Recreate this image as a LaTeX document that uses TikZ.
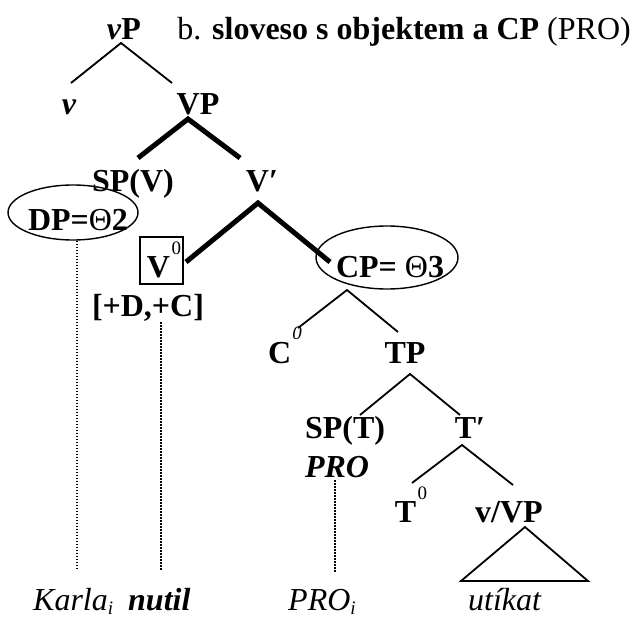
\documentclass[tikz,border=0pt]{standalone}
\usepackage{fontspec}
\setmainfont{Liberation Serif}
\usetikzlibrary{shapes.geometric}
\newcommand{\supz}{\kern1.5pt\raisebox{23pt}{\fontsize{19}{19}\selectfont\mdseries 0}}
\newcommand{\supzi}{\kern1pt\raisebox{24pt}{\fontsize{19}{19}\selectfont\mdseries\itshape 0}}
\newcommand{\subi}{\raisebox{-4pt}{\fontsize{19}{19}\selectfont i}}
\begin{document}
\begin{tikzpicture}[x=1pt,y=-1pt,
  font=\fontsize{32}{38}\selectfont\bfseries,
  lbl/.style={inner sep=0pt, anchor=base},
  lblw/.style={inner sep=0pt, anchor=base west},
  branch/.style={line width=1.8pt},
  heavy/.style={line width=5pt},
  ring/.style={draw, ellipse, line width=1.4pt, inner sep=0pt},
  trace/.style={line width=1.5pt, dash pattern=on 1.5pt off 1.5pt}]
\useasboundingbox (0,0) rectangle (633,618);

% texts
\node[lbl] (vP) at (124,40) {\textit{v}P};
\node[inner sep=0pt, anchor=base east] (title) at (631,40) {{\mdseries b.} sloveso s objektem a CP {\mdseries (PRO)}};
\node[lbl] (v) at (69,115) {\textit{v}};
\node[lbl] (VP) at (198,115) {VP};
\node[lbl] (SPV) at (133,192) {SP(V)};
\node[lbl] (Vbar) at (262,192) {V′};
\node[ring, minimum width=130, minimum height=55] (DPe) at (73,212.5) {};
\node[lbl] (DP) at (78,230) {DP={\mdseries Θ}2};
\node[draw, line width=1.6pt, minimum width=43, minimum height=47, inner sep=0pt] (Vbox) at (161.5,260.5) {};
\node[lbl] (V0) at (164,277) {V\supz};
\node[ring, minimum width=142, minimum height=63] (CPe) at (387,257.5) {};
\node[lbl] (CP) at (390,277) {CP= {\mdseries Θ}3};
\node[lbl] (feat) at (148,316) {[+D,+C]};
\node[lbl] (C0) at (285,363) {C\supzi};
\node[lbl] (TP) at (405,363) {TP};
\node[lbl] (SPT) at (345,438) {SP(T)};
\node[lbl] (Tbar) at (470,438) {T′};
\node[lbl] (PRO) at (337,477) {\textit{PRO}};
\node[lbl] (T0) at (411,522) {T\supz};
\node[lbl] (vVP) at (509,522) {v/VP};
\node[lblw, font=\fontsize{32}{38}\selectfont\mdseries\itshape] (Karla) at (33,610) {Karla\subi};
\node[lblw, font=\fontsize{32}{38}\selectfont\bfseries\itshape] (nutil) at (128,610) {nutil};
\node[lblw, font=\fontsize{32}{38}\selectfont\mdseries\itshape] (PROi) at (288,610) {PRO\subi};
\node[lblw, font=\fontsize{32}{38}\selectfont\mdseries\itshape] (utikat) at (468,610) {utíkat};

% branch points
\coordinate (a1) at (121,43);
\coordinate (a1l) at (71,83);
\coordinate (a1r) at (172,83);
\coordinate (a2) at (188,119);
\coordinate (a2l) at (138,158);
\coordinate (a2r) at (240,158);
\coordinate (a3) at (258,203);
\coordinate (a3l) at (186,262);
\coordinate (a3r) at (330,262);
\coordinate (a4) at (347,290);
\coordinate (a4l) at (298,328);
\coordinate (a4r) at (398,332);
\coordinate (a5) at (410,374);
\coordinate (a5l) at (360,415);
\coordinate (a5r) at (460,415);
\coordinate (a6) at (462,445);
\coordinate (a6l) at (412,483);
\coordinate (a6r) at (513,485);
\coordinate (t1) at (525,527);
\coordinate (t2) at (461,581);
\coordinate (t3) at (588,581);

\draw[branch] (a1l) -- (a1) -- (a1r);
\draw[heavy, line join=miter] (a2l) -- (a2) -- (a2r);
\draw[heavy, line join=miter] (a3l) -- (a3) -- (a3r);
\draw[branch] (a4l) -- (a4) -- (a4r);
\draw[branch] (a5l) -- (a5) -- (a5r);
\draw[branch] (a6l) -- (a6) -- (a6r);
\draw[branch] (t1) -- (t2) -- (t3) -- cycle;

% traces
\coordinate (d1) at (77,570);
\coordinate (d2top) at (161,322);
\coordinate (d2) at (161,570);
\coordinate (d3top) at (335,480);
\coordinate (d3) at (335,572);
\draw[trace] (DPe.south -| d1) -- (d1);
\draw[trace] (d2top) -- (d2);
\draw[trace] (d3top) -- (d3);
\end{tikzpicture}
\end{document}
